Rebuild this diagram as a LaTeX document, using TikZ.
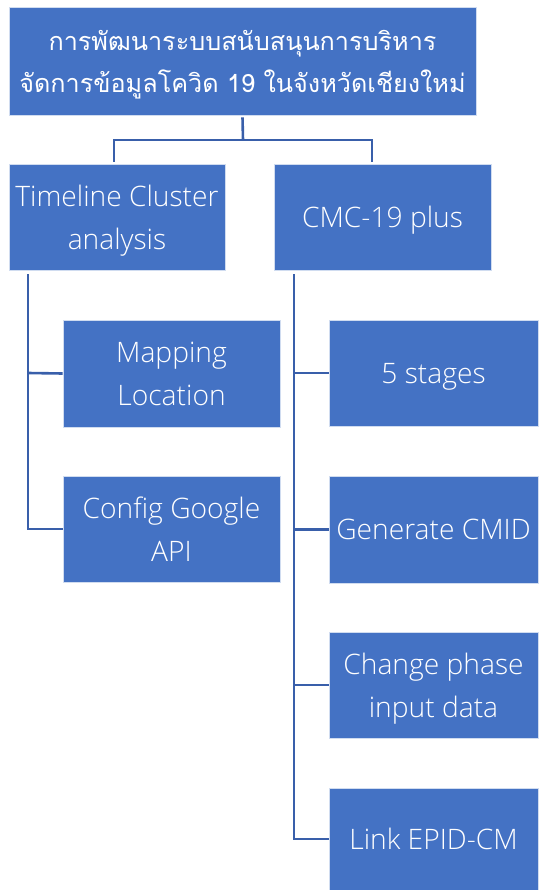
\documentclass[tikz,border=0pt]{standalone}
\usepackage{fontspec}
\setmainfont{Open Sans}[UprightFont={Open Sans Light}]
\newfontfamily\thaifont[Script=Thai, UprightFont={Loma}, BoldFont={Loma}]{Loma}
\definecolor{boxblue}{HTML}{4472C4}
\definecolor{linkblue}{RGB}{57,95,170}
\tikzset{
  blockbox/.style={fill=boxblue, draw=white!75!boxblue, line width=0.8pt, text=white, align=center, inner sep=2pt, text depth=-5pt, font=\fontsize{28.2}{43}\selectfont},
  titlebox/.style={blockbox, font=\thaifont\mdseries\fontsize{25.2}{42}\selectfont},
  link/.style={draw=linkblue, line width=2.6pt},
}
\begin{document}
\begin{tikzpicture}[x=1pt, y=-1pt]
\useasboundingbox (0,0) rectangle (538,890);
% top
\node[titlebox, minimum width=467pt, minimum height=108pt] (title) at (242.5,61) {การพัฒนาระบบสนับสนุนการบริหาร\\จัดการข้อมูลโควิด 19 ในจังหวัดเชียงใหม่};
% second row
\node[blockbox, minimum width=216pt, minimum height=106pt] (tca) at (117,217) {Timeline Cluster\\analysis};
\node[blockbox, minimum width=217pt, minimum height=106pt] (cmc) at (382.5,217) {CMC-19 plus};
% left branch
\node[blockbox, minimum width=217pt, minimum height=107pt] (map) at (171.5,373.5) {Mapping\\Location};
\node[blockbox, minimum width=217pt, minimum height=106pt] (cfg) at (171.5,529) {Config Google\\API};
% right branch
\node[blockbox, minimum width=209pt, minimum height=106pt] (stg) at (433.5,373) {5 stages};
\node[blockbox, minimum width=209pt, minimum height=107pt] (gen) at (433.5,529.5) {Generate CMID};
\node[blockbox, minimum width=209pt, minimum height=106pt] (chg) at (433.5,685) {Change phase\\input data};
\node[blockbox, minimum width=209pt, minimum height=102pt] (lnk) at (433.5,839) {Link EPID-CM};

% connectors
\coordinate (bus) at (243,140);
\draw[link] ([yshift=-2pt]title.south) -- (bus);
\draw[link] (bus) -| (114,162);
\draw[link] (bus) -| (372,162);
\draw[link] (28,274) |- (cfg.west);
\draw[link] (28,373) -- (map.west);
\draw[link] (294,274) |- (lnk.west);
\draw[link] (294,373) -- (stg.west);
\draw[link] (294,529.5) -- (gen.west);
\draw[link] (294,685) -- (chg.west);
\end{tikzpicture}
\end{document}
